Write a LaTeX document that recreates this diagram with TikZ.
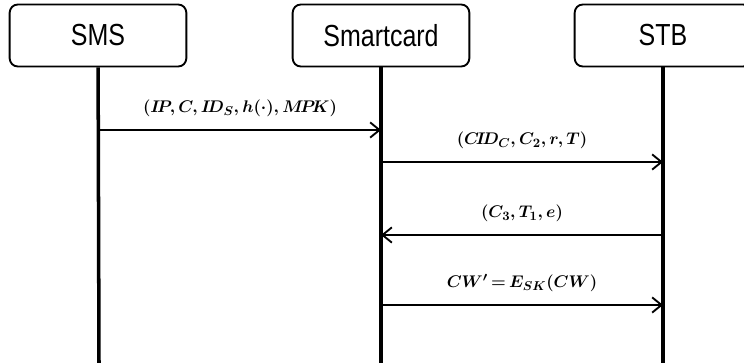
\documentclass[tikz,border=0pt]{standalone}
\usepackage{amsmath}
\usepackage{fontspec}
\newfontfamily\boxfont[FakeStretch=0.82]{Liberation Sans}
\usetikzlibrary{arrows.meta}

\begin{document}
\begin{tikzpicture}[x=0.03cm,y=-0.03cm,
    party/.style={draw,line width=1.6pt,rounded corners=7pt,minimum width=5.3cm,
      minimum height=1.86cm,font=\boxfont\fontsize{26}{30}\selectfont},
    life/.style={line width=3pt},
    msg/.style={line width=1.6pt,-{Straight Barb[length=8pt,width=13pt]}},
    lbl/.style={above=7pt,font=\fontsize{15}{18}\selectfont\boldmath}]
            \useasboundingbox (0,0) rectangle (744,363);
            \node[party] (sms) at (98,35.5) {SMS};
            \node[party] (card) at (381,35.5) {Smartcard};
            \node[party] (stb) at (663,35.5) {STB};
            \coordinate (smsEnd) at (99,363);
            \coordinate (cardEnd) at (381,363);
            \coordinate (stbEnd) at (663,363);
            \draw [life] (sms) -- (smsEnd);
            \draw [life] (card) -- (cardEnd);
            \draw [life] (stb) -- (stbEnd);
            \coordinate (sms1) at (99,130);
            \coordinate (card1) at (381,130);
            \coordinate (card2) at (381,162);
            \coordinate (stb2) at (663,162);
            \coordinate (card3) at (381,235);
            \coordinate (stb3) at (663,235);
            \coordinate (card4) at (381,305);
            \coordinate (stb4) at (663,305);
            \draw [msg] (sms1) -- node[lbl] {$(I\!P, C, I\!D_S, h(\cdot), M\!P\!K)$} (card1);
            \draw [msg] (card2) -- node[lbl] {$(C\!I\!D_C, C_2, r, T)$} (stb2);
            \draw [msg] (stb3) -- node[lbl] {$(C_3, T_1, e)$} (card3);
            \draw [msg] (card4) -- node[lbl] {$CW'\mkern3mu{=}\mkern3mu E_{SK}(CW)$} (stb4);
        \end{tikzpicture}
\end{document}
